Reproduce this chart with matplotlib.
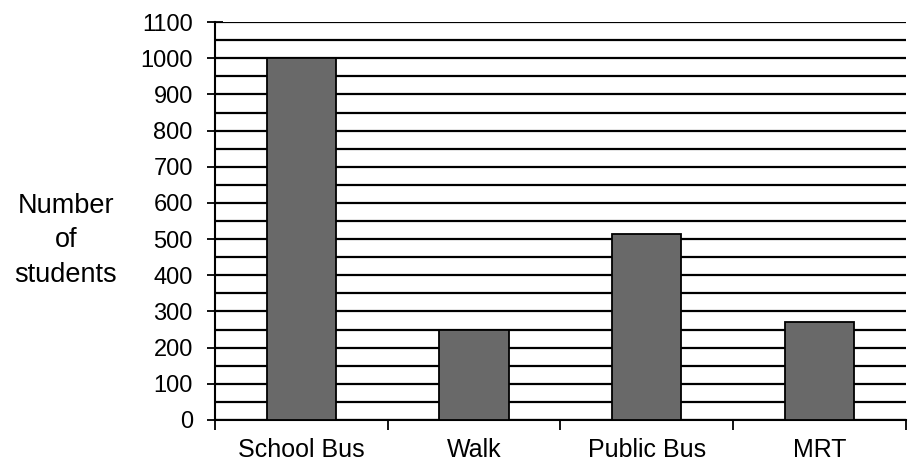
import numpy as np
from matplotlib import pyplot as plt

# Data
categories = ['School Bus', 'Walk', 'Public Bus', 'MRT']
students = [1000, 250, 515, 270]
y_ticks = list(range(0, 1101, 100))

plt.rcParams['font.family'] = ['Liberation Sans', 'DejaVu Sans']

fig = plt.figure(figsize=(9.13, 4.7), dpi=100)
ax = fig.add_axes([0.2355, 0.1064, 0.7565, 0.8466])

x = np.arange(len(categories))
ax.bar(x, students, width=0.4, color='#696969', edgecolor='black', linewidth=1.3, zorder=3)

ax.set_xlim(-0.5, len(categories) - 0.5)
ax.set_ylim(0, 1100)

# y axis: labelled ticks every 100, grid lines every 50
ax.set_yticks(y_ticks)
ax.set_yticks(np.arange(50, 1100, 100), minor=True)
ax.tick_params(axis='y', which='major', labelsize=17, length=12, width=1.3, direction='inout', pad=10)
ax.tick_params(axis='y', which='minor', length=0)
ax.grid(axis='y', which='both', color='black', linewidth=1.6, zorder=0)

# x axis: ticks between categories, labels centred under bars
ax.set_xticks(np.arange(-0.5, len(categories), 1.0))
ax.set_xticklabels([])
ax.set_xticks(x, minor=True)
ax.set_xticklabels(categories, minor=True)
ax.tick_params(axis='x', which='major', length=7, width=1.3, direction='out')
ax.tick_params(axis='x', which='minor', length=0, labelsize=18, pad=13)

for side in ['top', 'right']:
    ax.spines[side].set_visible(False)
for side in ['left', 'bottom']:
    ax.spines[side].set_linewidth(1.5)

fig.text(0.072, 0.489, 'Number\nof\nstudents', ha='center', va='center', fontsize=19.5, linespacing=1.42)

plt.savefig('out.png', dpi=100)
